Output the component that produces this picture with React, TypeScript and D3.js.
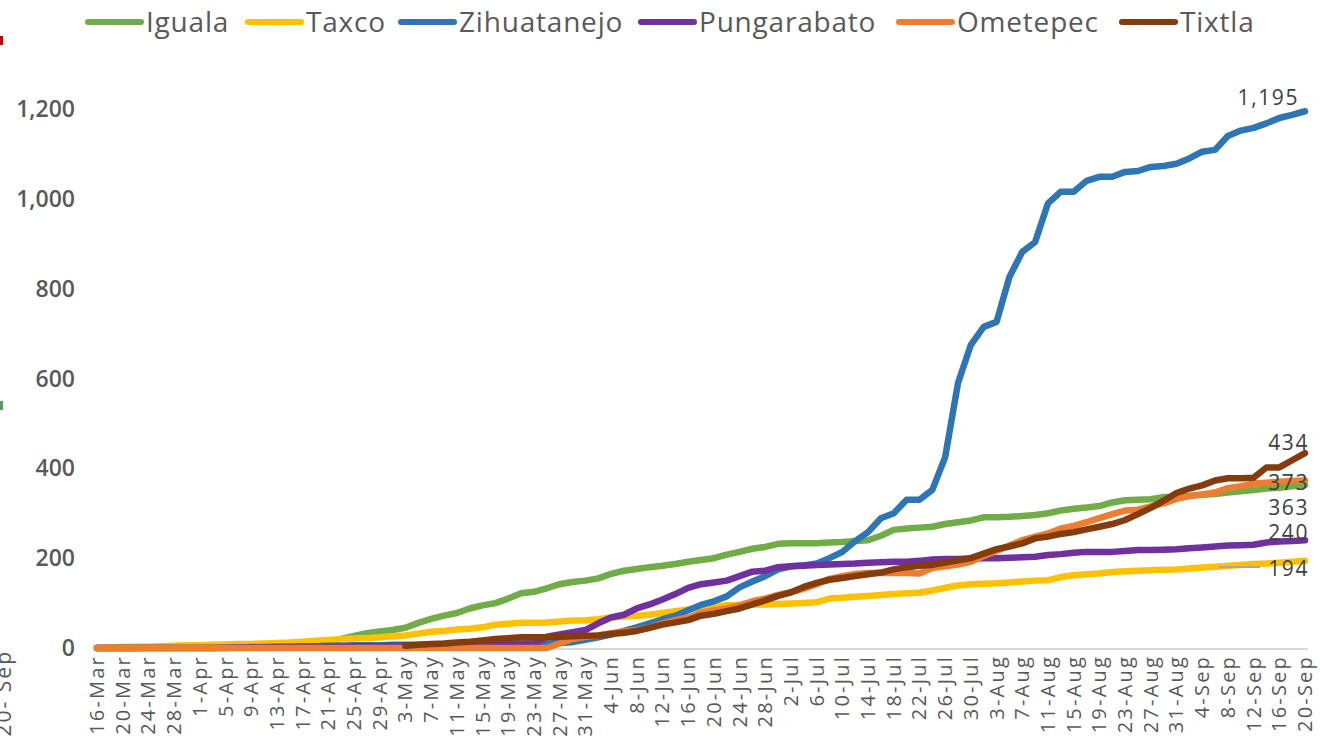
import React from 'react'
import * as d3 from 'd3'

const W = 1320
const H = 742

// cumulative cases, one value every 2 days from 16-Mar to 20-Sep
const iguala = [
  0, 0, 0, 0, 1, 1, 1, 2, 2, 2, 3, 3, 4, 4, 5, 6, 7, 8, 10, 20,
  27, 33, 37, 40, 45, 56, 65, 72, 78, 88, 95, 100, 110, 122, 125, 133, 142, 147, 150, 155,
  165, 172, 176, 180, 183, 187, 192, 196, 200, 208, 214, 221, 225, 232, 233, 233, 233, 235, 236, 238,
  240, 250, 263, 266, 268, 270, 276, 280, 284, 291, 291, 292, 294, 296, 300, 306, 310, 313, 316, 324,
  329, 330, 331, 336, 337, 339, 341, 343, 346, 349, 352, 355, 357, 360, 363,
]
const taxco = [
  0, 1, 2, 3, 3, 4, 5, 6, 6, 7, 8, 9, 9, 10, 11, 12, 14, 16, 18, 20,
  21, 22, 24, 26, 28, 32, 36, 38, 41, 43, 46, 52, 54, 56, 56, 57, 59, 61, 62, 64,
  68, 70, 72, 74, 78, 82, 86, 90, 92, 95, 96, 97, 97, 98, 99, 100, 102, 110, 112, 114,
  116, 118, 120, 122, 123, 128, 134, 139, 142, 143, 144, 146, 148, 150, 151, 158, 162, 164, 166, 169,
  171, 172, 173, 174, 175, 177, 179, 181, 183, 185, 187, 188, 190, 192, 194,
]
const zihuatanejo = [
  0, 0, 0, 0, 0, 0, 0, 0, 0, 0, 1, 1, 2, 2, 3, 3, 4, 4, 5, 5,
  6, 6, 6, 7, 7, 7, 8, 8, 8, 9, 9, 9, 10, 10, 10, 10, 11, 13, 18, 24,
  30, 38, 46, 55, 64, 72, 84, 96, 104, 115, 135, 148, 160, 175, 182, 184, 188, 200, 214, 238,
  258, 289, 300, 330, 330, 352, 425, 590, 675, 715, 726, 826, 882, 904, 990, 1016, 1016, 1040, 1049, 1049,
  1060, 1062, 1071, 1073, 1078, 1090, 1105, 1109, 1140, 1152, 1158, 1168, 1180, 1187, 1195,
]
const pungarabato = [
  0, 0, 0, 0, 0, 0, 0, 0, 0, 0, 0, 1, 1, 1, 2, 2, 2, 3, 3, 3,
  4, 4, 4, 5, 5, 5, 6, 6, 7, 7, 8, 8, 9, 9, 10, 25, 30, 35, 40, 55,
  68, 74, 88, 97, 108, 120, 134, 142, 146, 150, 160, 170, 172, 180, 182, 183, 185, 186, 187, 188,
  190, 191, 192, 192, 194, 197, 198, 198, 199, 200, 200, 201, 202, 203, 207, 209, 212, 214, 214, 214,
  216, 218, 218, 219, 220, 222, 224, 226, 228, 229, 230, 235, 237, 238, 240,
]
const ometepec = [
  0, 0, 0, 0, 0, 0, 0, 0, 0, 0, 0, 0, 0, 0, 0, 0, 0, 0, 0, 0,
  0, 0, 0, 0, 0, 0, 0, 0, 0, 0, 0, 0, 0, 0, 0, 0, 10, 20, 25, 28,
  33, 37, 40, 45, 55, 62, 68, 78, 84, 88, 95, 104, 110, 118, 124, 132, 142, 154, 160, 165,
  167, 167, 167, 167, 166, 178, 182, 186, 192, 205, 216, 228, 240, 248, 255, 266, 272, 280, 289, 298,
  306, 308, 315, 322, 332, 338, 342, 346, 356, 360, 366, 368, 370, 372, 373,
]
const tixtla = [
  null, null, null, null, null, null, null, null, null, null, null, null, null, null, null, null, null, null, null, null,
  null, null, null, null, 5, 7, 9, 10, 12, 14, 17, 20, 22, 24, 24, 24, 25, 26, 27, 28,
  31, 34, 38, 45, 52, 57, 62, 72, 76, 82, 88, 97, 106, 116, 124, 136, 145, 152, 156, 160,
  164, 168, 175, 180, 183, 185, 190, 195, 200, 210, 220, 226, 233, 244, 248, 254, 258, 264, 270, 276,
  285, 298, 312, 328, 345, 355, 362, 373, 378, 378, 379, 402, 402, 418, 434,
]

const tickLabels = [
  '16-Mar', '20-Mar', '24-Mar', '28-Mar', '1-Apr', '5-Apr', '9-Apr', '13-Apr', '17-Apr', '21-Apr',
  '25-Apr', '29-Apr', '3-May', '7-May', '11-May', '15-May', '19-May', '23-May', '27-May', '31-May',
  '4-Jun', '8-Jun', '12-Jun', '16-Jun', '20-Jun', '24-Jun', '28-Jun', '2-Jul', '6-Jul', '10-Jul',
  '14-Jul', '18-Jul', '22-Jul', '26-Jul', '30-Jul', '3-Aug', '7-Aug', '11-Aug', '15-Aug', '19-Aug',
  '23-Aug', '27-Aug', '31-Aug', '4-Sep', '8-Sep', '12-Sep', '16-Sep', '20-Sep',
]
const yTicks = [0, 200, 400, 600, 800, 1000, 1200]

const series = [
  { name: 'Iguala', color: '#70AD47', values: iguala },
  { name: 'Taxco', color: '#FFC000', values: taxco },
  { name: 'Zihuatanejo', color: '#2E75B6', values: zihuatanejo },
  { name: 'Pungarabato', color: '#7030A0', values: pungarabato },
  { name: 'Ometepec', color: '#ED7D31', values: ometepec },
  { name: 'Tixtla', color: '#843C0C', values: tixtla },
]

const DAY = 864e5
const start = Date.UTC(2020, 2, 16)
const dates = iguala.map((_, i) => new Date(start + i * 2 * DAY))
const tickDates = tickLabels.map((_, i) => new Date(start + i * 4 * DAY))

// hand placed like the excel data labels
const labelDy: Record<string, number> = {
  Iguala: 23, Taxco: 8, Zihuatanejo: -14, Pungarabato: -8, Ometepec: 2, Tixtla: -10,
}
const legendX = [86, 246, 399, 639, 897, 1120]

const font = "'Open Sans', 'DejaVu Sans', sans-serif"

export default function App() {
  const x = d3.scaleUtc().domain([dates[0], dates[dates.length - 1]]).range([97, 1305])
  const y = d3.scaleLinear().domain([0, 1200]).range([648, 109])

  const line = d3.line<number | null>()
    .defined(d => d !== null)
    .x((_, i) => x(dates[i]))
    .y(d => y(d as number))

  const last = dates.length - 1

  return (
    <svg width={W} height={H} style={{ position: 'absolute', left: 0, top: 0, background: '#fff' }}>
      {/* bits of the neighbouring chart cut off at the left edge */}
      <rect x={0} y={36} width={3} height={9} fill="#C00000" />
      <rect x={0} y={401} width={3} height={9} fill="#5B9B5B" />
      <text transform="translate(11,650) rotate(-90)" textAnchor="end" fontFamily={font}
        fontSize={21} fill="#595959" letterSpacing={2}>20- Sep</text>

      {/* y axis labels */}
      {yTicks.map(t => (
        <text key={t} x={75} y={y(t)} dy="0.35em" textAnchor="end" fontFamily={font}
          fontSize={23} fontWeight={600} fill="#595959">{d3.format(',')(t)}</text>
      ))}

      {/* x axis */}
      <line x1={97} x2={1308} y1={y(0) + 1} y2={y(0) + 1} stroke="#D9D9D9" strokeWidth={2} />
      {tickDates.map((d, i) => (
        <text key={i} transform={`translate(${x(d) + 7},655) rotate(-90)`} textAnchor="end"
          fontFamily={font} fontSize={20} fill="#595959" letterSpacing={2.2}>{tickLabels[i]}</text>
      ))}

      {/* lines */}
      {series.map(s => (
        <path key={s.name} d={line(s.values) || ''} fill="none" stroke={s.color} strokeWidth={6.5}
          strokeLinejoin="round" strokeLinecap="round" />
      ))}

      {/* end labels */}
      <line x1={1219} x2={1260} y1={567} y2={567} stroke="#A6A6A6" strokeWidth={2} />
      {series.map(s => {
        const v = s.values[last] as number
        return (
          <text key={s.name} x={s.name === 'Zihuatanejo' ? x(dates[last]) - 6 : x(dates[last]) + 4}
            y={y(v) + labelDy[s.name]} dy="0.35em" textAnchor="end" fontFamily={font}
            fontSize={21} fill="#404040" letterSpacing={1.6}>{d3.format(',')(v)}</text>
        )
      })}

      {/* legend */}
      {series.map((s, i) => (
        <g key={s.name} transform={`translate(${legendX[i]},22)`}>
          <line x1={2} x2={55} y1={0} y2={0} stroke={s.color} strokeWidth={6} strokeLinecap="round" />
          <text x={60} y={0} dy="0.35em" fontFamily={font} fontSize={28} fill="#595959"
            letterSpacing={0.8}>{s.name}</text>
        </g>
      ))}
    </svg>
  )
}
